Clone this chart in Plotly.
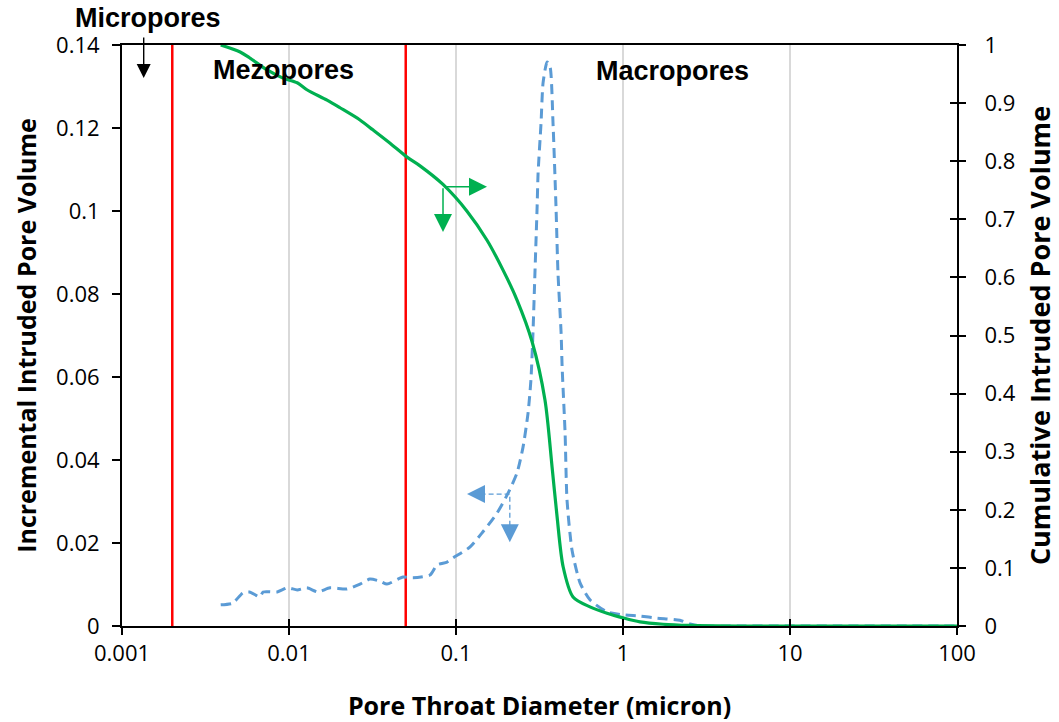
import math
import plotly.graph_objects as go

# Pore throat diameter (micron) and cumulative intruded pore volume (fraction)
cum_diameter = [0.0039, 0.0051, 0.0058, 0.0074, 0.0092, 0.0112, 0.0128, 0.0169, 0.0202,
                0.0266, 0.0318, 0.0403, 0.0509, 0.0609, 0.0836, 0.1164, 0.1534, 0.191,
                0.232, 0.285, 0.341, 0.376, 0.403, 0.438, 0.502, 0.634, 0.802, 1.0,
                1.264, 1.738, 2.52, 5, 10, 20, 50, 100]
cum_volume = [1.0, 0.988, 0.978, 0.957, 0.943, 0.935, 0.923, 0.905, 0.892,
              0.871, 0.854, 0.831, 0.807, 0.792, 0.760, 0.714, 0.664, 0.613,
              0.561, 0.49, 0.389, 0.274, 0.188, 0.102, 0.050, 0.033, 0.022, 0.014,
              0.007, 0.003, 0.001, 0, 0, 0, 0, 0]

# Pore throat diameter (micron) and incremental intruded pore volume
inc_diameter = [0.0039, 0.0046, 0.0053, 0.0058, 0.0067, 0.0070, 0.0085, 0.0098, 0.0112, 0.0128,
                0.0149, 0.0176, 0.0222, 0.0266, 0.0305, 0.0351, 0.0386, 0.0482, 0.0553, 0.0699,
                0.0769, 0.0883, 0.0959, 0.121, 0.145, 0.176, 0.205, 0.232, 0.252, 0.270,
                0.281, 0.289, 0.297, 0.306, 0.310, 0.323, 0.332, 0.351, 0.366, 0.381,
                0.397, 0.408, 0.426, 0.432, 0.450, 0.462, 0.495, 0.553, 0.634, 0.802,
                1.0, 1.264, 1.60, 2.19, 2.52, 2.89, 5, 10, 20, 50, 100]
inc_volume = [0.0051, 0.0055, 0.0080, 0.0082, 0.0070, 0.0082, 0.0082, 0.0092, 0.0087, 0.0092,
              0.0082, 0.0092, 0.0089, 0.0101, 0.0113, 0.0108, 0.0101, 0.0118, 0.0116, 0.0123,
              0.0147, 0.0154, 0.0164, 0.0190, 0.0227, 0.0272, 0.0320, 0.0369, 0.0431, 0.0513,
              0.0593, 0.0706, 0.0851, 0.101, 0.109, 0.1212, 0.1308, 0.1359, 0.1347, 0.1212,
              0.101, 0.0851, 0.0706, 0.0624, 0.0465, 0.0304, 0.0183, 0.0104, 0.0063, 0.0034,
              0.0027, 0.0024, 0.0019, 0.0014, 0.0005, 0, 0, 0, 0, 0, 0]

# Pore class boundaries (micron)
boundaries = [0.002, 0.05]

x_ticks = [0.001, 0.01, 0.1, 1, 10, 100]
x_ticktext = ["0.001", "0.01", "0.1", "1", "10", "100"]
left_ticks = [0, 0.02, 0.04, 0.06, 0.08, 0.1, 0.12, 0.14]
left_ticktext = ["0", "0.02", "0.04", "0.06", "0.08", "0.1", "0.12", "0.14"]
right_ticks = [0, 0.1, 0.2, 0.3, 0.4, 0.5, 0.6, 0.7, 0.8, 0.9, 1]
right_ticktext = ["0", "0.1", "0.2", "0.3", "0.4", "0.5", "0.6", "0.7", "0.8", "0.9", "1"]

# Arrow anchor points indicating which axis each curve belongs to
green_corner = (0.0836, 0.756)
green_right_tip = 0.1534
green_down_tip = 0.678
blue_corner = (0.21, 0.0318)
blue_left_tip = 0.1164
blue_down_tip = 0.0202

GREEN = "#00B050"
BLUE = "#5B9BD5"
RED = "#FF0000"
TICK_FONT = dict(family="Open Sans", size=22, color="#000000")
LABEL_FONT = dict(family="Liberation Sans", size=27, color="#000000")


def title_font(size):
    return dict(family="Open Sans", size=size, color="#000000")


fig = go.Figure()

for b in boundaries:
    fig.add_trace(go.Scatter(x=[b, b], y=[0, 0.14], mode="lines",
                             line=dict(color=RED, width=2.5),
                             hoverinfo="skip", showlegend=False))

fig.add_trace(go.Scatter(x=inc_diameter, y=inc_volume, mode="lines",
                         line=dict(color=BLUE, width=3, dash="10px,6px", shape="spline",
                                   smoothing=0.6),
                         showlegend=False))

# dashed shafts of the blue arrows
fig.add_trace(go.Scatter(x=[blue_left_tip * 1.08, blue_corner[0], blue_corner[0]],
                         y=[blue_corner[1], blue_corner[1], blue_down_tip + 0.002],
                         mode="lines", line=dict(color=BLUE, width=1.3, dash="5px,3px"),
                         hoverinfo="skip", showlegend=False))

fig.add_trace(go.Scatter(x=cum_diameter, y=cum_volume, mode="lines",
                         line=dict(color=GREEN, width=3.2, shape="spline", smoothing=0.8),
                         yaxis="y2", showlegend=False))

# helper trace so the overlay axes (inner tick marks) are drawn
fig.add_trace(go.Scatter(x=[0.001], y=[0], mode="markers", marker=dict(opacity=0),
                         xaxis="x2", yaxis="y3", hoverinfo="skip", showlegend=False))

annotations = [
    dict(text="<b>Micropores</b>", xref="paper", yref="paper", x=0.031, y=1.047,
         xanchor="center", yanchor="middle", showarrow=False, font=LABEL_FONT),
    dict(text="<b>Mezopores</b>", xref="paper", yref="paper", x=0.193, y=0.957,
         xanchor="center", yanchor="middle", showarrow=False, font=LABEL_FONT),
    dict(text="<b>Macropores</b>", xref="paper", yref="paper", x=0.659, y=0.955,
         xanchor="center", yanchor="middle", showarrow=False, font=LABEL_FONT),
    dict(text="", xref="paper", yref="paper", x=0.026, y=0.943, ax=0, ay=-42,
         showarrow=True, arrowhead=2, arrowsize=2, arrowwidth=1.4, arrowcolor="#000000"),
    dict(text="", xref="x", yref="y2", x=math.log10(green_right_tip), y=green_corner[1],
         axref="x", ayref="y2", ax=math.log10(green_corner[0]), ay=green_corner[1],
         showarrow=True, arrowhead=2, arrowsize=2.4, arrowwidth=1.5, arrowcolor=GREEN),
    dict(text="", xref="x", yref="y2", x=math.log10(green_corner[0]), y=green_down_tip,
         axref="x", ayref="y2", ax=math.log10(green_corner[0]), ay=green_corner[1],
         showarrow=True, arrowhead=2, arrowsize=2.4, arrowwidth=1.5, arrowcolor=GREEN),
    dict(text="", xref="x", yref="y", x=math.log10(blue_left_tip), y=blue_corner[1],
         ax=14, ay=0, showarrow=True, arrowhead=2, arrowsize=3, arrowwidth=1.2,
         arrowcolor=BLUE),
    dict(text="", xref="x", yref="y", x=math.log10(blue_corner[0]), y=blue_down_tip,
         ax=0, ay=-14, showarrow=True, arrowhead=2, arrowsize=3, arrowwidth=1.2,
         arrowcolor=BLUE),
]

x_range = [-3, 2]
fig.update_layout(
    width=1059, height=722,
    margin=dict(l=122, r=102, t=45, b=96, autoexpand=False),
    paper_bgcolor="white", plot_bgcolor="white",
    annotations=annotations,
    xaxis=dict(type="log", range=x_range, tickvals=x_ticks, ticktext=x_ticktext,
               showgrid=True, gridcolor="#D9D9D9", gridwidth=1.5,
               showline=True, linecolor="#000000", linewidth=2, mirror=True,
               ticks="outside", ticklen=7, tickwidth=1.5, tickcolor="#000000",
               tickfont=TICK_FONT, zeroline=False, automargin=False,
               title=dict(text="<b>Pore Throat Diameter (micron)</b>", font=title_font(25),
                          standoff=31)),
    xaxis2=dict(type="log", range=x_range, overlaying="x", anchor="y",
                side="bottom", tickvals=x_ticks, showticklabels=False, showgrid=False,
                showline=False, ticks="inside", ticklen=7, tickwidth=1.5,
                tickcolor="#000000", zeroline=False, automargin=False),
    yaxis=dict(range=[0, 0.14], tickvals=left_ticks, ticktext=left_ticktext,
               showgrid=False, zeroline=False, automargin=False,
               showline=True, linecolor="#000000", linewidth=2,
               ticks="outside", ticklen=8, tickwidth=1.5, tickcolor="#000000",
               tickfont=TICK_FONT, ticklabelstandoff=8,
               title=dict(text="<b>Incremental Intruded Pore Volume</b>", font=title_font(25),
                          standoff=12)),
    yaxis2=dict(range=[0, 1], overlaying="y", side="right", tickvals=right_ticks,
                ticktext=right_ticktext, showgrid=False, zeroline=False, automargin=False,
                showline=True, linecolor="#000000", linewidth=2,
                ticks="outside", ticklen=7, tickwidth=1.5, tickcolor="#000000",
                tickfont=TICK_FONT, ticklabelstandoff=14,
                title=dict(text="<b>Cumulative Intruded Pore Volume</b>", font=title_font(27),
                           standoff=16)),
    yaxis3=dict(range=[0, 1], overlaying="y", side="right", anchor="x",
                tickvals=right_ticks, showticklabels=False, showgrid=False,
                zeroline=False, showline=False, ticks="inside", ticklen=7,
                tickwidth=1.5, tickcolor="#000000", automargin=False),
)

fig.write_html("out.html")
